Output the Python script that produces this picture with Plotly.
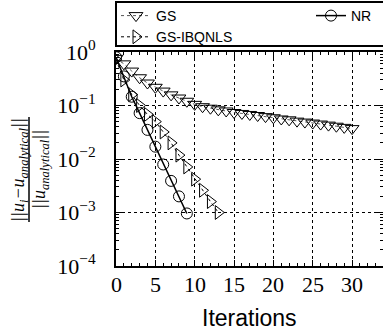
import plotly.graph_objects as go

# ---- data ----
gs_iter = list(range(0, 31))
gs_vals = [0.76, 0.60, 0.44, 0.33, 0.263, 0.219, 0.186, 0.158, 0.138, 0.120,
           0.105, 0.095, 0.089, 0.083, 0.079, 0.074, 0.071, 0.068, 0.065, 0.062,
           0.059, 0.056, 0.054, 0.051, 0.049, 0.047, 0.045, 0.043, 0.041, 0.039,
           0.037]

ibq_iter = list(range(0, 14))
ibq_vals = [0.72, 0.30, 0.160, 0.100, 0.068, 0.050, 0.032, 0.020, 0.0118,
            0.0071, 0.0042, 0.0026, 0.0016, 0.00100]

nr_iter = list(range(0, 10))
nr_vals = [0.80, 0.35, 0.146, 0.072, 0.035, 0.017, 0.0079, 0.0039, 0.0020,
           0.00096]

x_ticks = [0, 5, 10, 15, 20, 25, 30]
x_ticktext = ["0", "5", "10", "15", "20", "25", "30"]
y_tickvals = [1, 0.1, 0.01, 0.001, 0.0001]
y_ticktext = ["10<sup>0</sup>", "10<sup>−1</sup>", "10<sup>−2</sup>",
              "10<sup>−3</sup>", "10<sup>−4</sup>"]

W, H = 383, 334
ML, MT, MB, MR = 116, 52, 68, 0
PW = W - ML - MR
PH = H - MT - MB

def px_x(p):  # pixel -> paper x
    return (p - ML) / PW

def px_y(p):  # pixel -> paper y
    return (H - MB - p) / PH

fig = go.Figure()

fig.add_trace(go.Scatter(
    x=gs_iter, y=gs_vals, name="GS", mode="lines+markers",
    line=dict(color="#555555", width=1, dash="dot"),
    marker=dict(symbol="triangle-down-open", size=12, color="black",
                line=dict(width=1)),
    legend="legend"))
fig.add_trace(go.Scatter(
    x=ibq_iter, y=ibq_vals, name="GS-IBQNLS", mode="lines+markers",
    line=dict(color="black", width=1, dash="dot"),
    marker=dict(symbol="triangle-right-open", size=12, color="black",
                line=dict(width=1)),
    legend="legend"))
fig.add_trace(go.Scatter(
    x=nr_iter, y=nr_vals, name="NR", mode="lines+markers",
    line=dict(color="black", width=1.5),
    marker=dict(symbol="circle-open", size=11, color="black",
                line=dict(width=1)),
    legend="legend2"))

tick_font = dict(family="Liberation Serif", size=22, color="black")

fig.update_xaxes(
    showline=True, linecolor="black", linewidth=2, mirror="allticks",
    ticks="inside", ticklen=6, tickcolor="black", tickwidth=1,
    showgrid=True, gridcolor="black", gridwidth=1, griddash="dot",
    zeroline=False, automargin=False, showticklabels=False,
    range=[0, PW / 7.87], tickvals=x_ticks,
    minor=dict(ticks="inside", ticklen=3, dtick=1, tick0=0,
               tickcolor="black", showgrid=False))

fig.update_yaxes(
    showline=True, linecolor="black", linewidth=2, mirror="allticks",
    ticks="inside", ticklen=6, tickcolor="black", tickwidth=1,
    showgrid=True, gridcolor="black", gridwidth=1, griddash="dot",
    zeroline=False, tickfont=tick_font, automargin=False,
    type="log", range=[-4, 0], tickvals=y_tickvals, ticktext=y_ticktext,
    minor=dict(ticks="inside", ticklen=3, dtick="D1",
               tickcolor="black", showgrid=False),
    ticklabelstandoff=14)

# x tick labels (placed on the x data scale)
for v, t in zip(x_ticks, x_ticktext):
    fig.add_annotation(xref="x", yref="paper", x=v, y=px_y(284),
                       text=t, showarrow=False, font=tick_font,
                       xanchor="center", yanchor="middle")

# x-axis title
fig.add_annotation(xref="paper", yref="paper", x=0.5, y=px_y(318),
                   text="Iterations", showarrow=False,
                   font=dict(family="Liberation Sans", size=23, color="black"),
                   xanchor="center", yanchor="middle")

# legend frame
fig.add_shape(type="rect", xref="paper", yref="paper",
              x0=0, x1=px_x(392), y0=px_y(46), y1=px_y(2),
              line=dict(color="black", width=2), fillcolor="white", layer="above")

# y-axis title as a fraction
serif = dict(family="Liberation Serif", size=18, color="black")
fig.add_annotation(xref="paper", yref="paper", x=px_x(19), y=px_y(170),
                   text="<i>||u<sub>i</sub>−u<sub>analytical</sub>||</i>",
                   textangle=-90, showarrow=False, font=serif,
                   xanchor="center", yanchor="middle")
fig.add_annotation(xref="paper", yref="paper", x=px_x(40), y=px_y(170),
                   text="<i>||u<sub>analytical</sub>||</i>",
                   textangle=-90, showarrow=False, font=serif,
                   xanchor="center", yanchor="middle")
fig.add_shape(type="line", xref="paper", yref="paper",
              x0=px_x(29), x1=px_x(29), y0=px_y(117), y1=px_y(222),
              line=dict(color="black", width=1.5))

legend_font = dict(family="Liberation Sans", size=14, color="black")
fig.update_layout(
    width=W, height=H,
    margin=dict(l=ML, r=MR, t=MT, b=MB),
    paper_bgcolor="white", plot_bgcolor="white",
    legend=dict(x=0, y=px_y(0), xanchor="left", yanchor="top",
                bgcolor="rgba(0,0,0,0)", font=legend_font,
                tracegroupgap=0, itemwidth=30),
    legend2=dict(x=px_x(311), y=px_y(0), xanchor="left", yanchor="top",
                 bgcolor="rgba(0,0,0,0)", font=legend_font, itemwidth=30),
)

fig.write_html("out.html")
